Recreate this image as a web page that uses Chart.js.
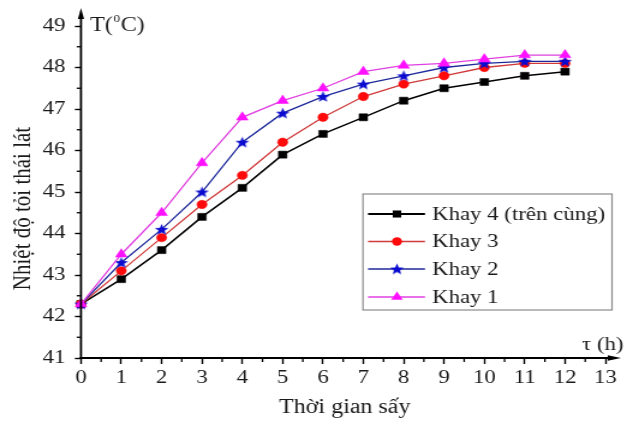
<!DOCTYPE html>
<html>
<head>
<meta charset="utf-8">
<script src="https://cdn.jsdelivr.net/npm/chart.js@4/dist/chart.umd.min.js"></script>
<style>
  html, body { margin: 0; padding: 0; background: #ffffff; overflow: hidden; }
  #c { display: block; width: 627px; height: 421px; }
</style>
</head>
<body>
<canvas id="c" width="522" height="421" style="width:627px;height:421px"></canvas>
<script>
// ---- data ----
const hours = [0, 1, 2, 3, 4, 5, 6, 7, 8, 9, 10, 11, 12];
const khay4 = [42.3, 42.9, 43.6, 44.4, 45.1, 45.9, 46.4, 46.8, 47.2, 47.5, 47.65, 47.8, 47.9];
const khay3 = [42.3, 43.1, 43.9, 44.7, 45.4, 46.2, 46.8, 47.3, 47.6, 47.8, 48.0, 48.1, 48.1];
const khay2 = [42.3, 43.3, 44.1, 45.0, 46.2, 46.9, 47.3, 47.6, 47.8, 48.0, 48.1, 48.15, 48.15];
const khay1 = [42.3, 43.5, 44.5, 45.7, 46.8, 47.2, 47.5, 47.9, 48.05, 48.1, 48.2, 48.3, 48.3];
const seriesNames = ['Khay 4 (trên cùng)', 'Khay 3', 'Khay 2', 'Khay 1'];
const yTicks = [41, 42, 43, 44, 45, 46, 47, 48, 49];
const xTicks = [0, 1, 2, 3, 4, 5, 6, 7, 8, 9, 10, 11, 12, 13];
const yTitle = 'Nhiệt độ tỏi thái lát';
const xTitle = 'Thời gian sấy';

const SERIF = '"Liberation Serif", "Times New Roman", serif';

// star marker image
function makeStar(color) {
  const c = document.createElement('canvas');
  c.width = 13; c.height = 13;
  const g = c.getContext('2d');
  g.fillStyle = color;
  g.beginPath();
  const cx = 6.5, cy = 7, R = 6, r = 2.6;
  for (let i = 0; i < 10; i++) {
    const a = -Math.PI / 2 + i * Math.PI / 5;
    const rr = i % 2 === 0 ? R : r;
    const px = cx + rr * Math.cos(a), py = cy + rr * Math.sin(a);
    if (i === 0) g.moveTo(px, py); else g.lineTo(px, py);
  }
  g.closePath();
  g.fill();
  return c;
}
const starImg = makeStar('#0a0ad0');

const toPts = arr => hours.map((h, i) => ({ x: h, y: arr[i] }));

const styles = [
  { line: '#000000', fill: '#000000', style: 'rect', radius: 5, width: 1.5, order: 3 },
  { line: '#d03a3a', fill: '#ff0a0a', style: 'circle', radius: 4.2, width: 1.3, order: 2 },
  { line: '#1f2a9a', fill: '#0a0ad0', style: starImg, radius: 5, width: 1.3, order: 1 },
  { line: '#e040e0', fill: '#ff10ff', style: 'triangle', radius: 5.6, width: 1.3, order: 0 }
];
const seriesData = [khay4, khay3, khay2, khay1];

const datasets = seriesData.map((arr, i) => ({
  label: seriesNames[i],
  data: toPts(arr),
  borderColor: styles[i].line,
  backgroundColor: styles[i].fill,
  borderWidth: styles[i].width,
  pointStyle: styles[i].style,
  pointRadius: styles[i].radius,
  pointBackgroundColor: styles[i].fill,
  pointBorderColor: styles[i].fill,
  pointBorderWidth: 0.5,
  tension: 0,
  clip: false,
  order: styles[i].order
}));

function drawMarker(ctx, st, x, y) {
  ctx.save();
  ctx.fillStyle = st.fill;
  if (st.style === 'rect') {
    const s = st.radius * Math.SQRT1_2;
    ctx.fillRect(x - s, y - s, 2 * s, 2 * s);
  } else if (st.style === 'circle') {
    ctx.beginPath(); ctx.arc(x, y, st.radius, 0, Math.PI * 2); ctx.fill();
  } else if (st.style === 'triangle') {
    const r = st.radius;
    ctx.beginPath();
    ctx.moveTo(x, y - r);
    ctx.lineTo(x + r * Math.sin(Math.PI / 3), y + r * 0.5);
    ctx.lineTo(x - r * Math.sin(Math.PI / 3), y + r * 0.5);
    ctx.closePath(); ctx.fill();
  } else {
    ctx.drawImage(st.style, x - st.style.width / 2, y - st.style.height / 2);
  }
  ctx.restore();
}

const decor = {
  id: 'decor',
  afterDraw(chart) {
    const ctx = chart.ctx;
    const xs = chart.scales.x, ys = chart.scales.y;
    const L = chart.chartArea.left, B = chart.chartArea.bottom;
    ctx.save();
    ctx.strokeStyle = '#000'; ctx.fillStyle = '#000';
    // axes
    ctx.lineWidth = 1.8;
    ctx.beginPath(); ctx.moveTo(L, B + 0.5); ctx.lineTo(L, 14); ctx.stroke();
    ctx.lineWidth = 2;
    ctx.beginPath(); ctx.moveTo(L - 1, B); ctx.lineTo(510, B); ctx.stroke();
    // arrows
    ctx.beginPath(); ctx.moveTo(L, 8); ctx.lineTo(L + 2.6, 19); ctx.lineTo(L - 2.6, 19); ctx.closePath(); ctx.fill();
    ctx.beginPath(); ctx.moveTo(517, B); ctx.lineTo(506, B - 2.8); ctx.lineTo(506, B + 2.8); ctx.closePath(); ctx.fill();
    // minor ticks
    ctx.lineWidth = 1.3;
    for (let i = 0; i < yTicks.length - 1; i++) {
      const py = ys.getPixelForValue(yTicks[i] + 0.5);
      ctx.beginPath(); ctx.moveTo(L - 3.5, py); ctx.lineTo(L, py); ctx.stroke();
    }
    for (let i = 0; i < xTicks.length - 1; i++) {
      const px = xs.getPixelForValue(xTicks[i] + 0.5);
      ctx.beginPath(); ctx.moveTo(px, B); ctx.lineTo(px, B + 4); ctx.stroke();
    }
    // titles
    ctx.fillStyle = '#1a1a1a';
    ctx.font = '21px ' + SERIF;
    ctx.textAlign = 'center'; ctx.textBaseline = 'middle';
    ctx.save();
    ctx.translate(19, 208.5); ctx.rotate(-Math.PI / 2);
    ctx.fillText(yTitle, 0, 0);
    ctx.restore();
    ctx.font = '20px ' + SERIF;
    ctx.fillText(xTitle, 287, 408);
    // T(0C)
    ctx.textAlign = 'left'; ctx.textBaseline = 'alphabetic';
    ctx.font = '20px ' + SERIF;
    let tx = 75;
    ctx.fillText('T(', tx, 31); tx += ctx.measureText('T(').width;
    ctx.font = '11px ' + SERIF;
    ctx.fillText('0', tx + 0.5, 22); tx += ctx.measureText('0').width + 1;
    ctx.font = '20px ' + SERIF;
    ctx.fillText('C)', tx, 31);
    // tau (h)
    ctx.font = '19px ' + SERIF;
    ctx.fillText('τ (h)', 484.5, 350);
    // legend
    const bx0 = 302.2, bx1 = 509.5, by0 = 194, by1 = 310;
    ctx.strokeStyle = '#8a8a8a'; ctx.lineWidth = 1.2;
    ctx.strokeRect(bx0, by0, bx1 - bx0, by1 - by0);
    const rows = [214, 241.5, 269, 297];
    ctx.font = '19px ' + SERIF; ctx.textBaseline = 'middle';
    for (let i = 0; i < 4; i++) {
      const st = styles[i], ry = rows[i];
      ctx.strokeStyle = st.line; ctx.lineWidth = st.width + 0.3;
      ctx.beginPath(); ctx.moveTo(306.4, ry); ctx.lineTo(353.8, ry); ctx.stroke();
      drawMarker(ctx, st, 330.5, ry);
      ctx.fillStyle = '#1a1a1a';
      ctx.fillText(seriesNames[i], 359.7, ry + 1);
    }
    ctx.restore();
  }
};

const tickFont = { family: SERIF, size: 19 };

new Chart(document.getElementById('c'), {
  type: 'line',
  data: { datasets },
  plugins: [decor],
  options: {
    responsive: false,
    animation: false,
    devicePixelRatio: 1,
    layout: { padding: { left: 0, right: 18, top: 26, bottom: 0 } },
    plugins: { legend: { display: false }, tooltip: { enabled: false }, title: { display: false } },
    scales: {
      x: {
        type: 'linear', min: 0, max: 13,
        afterBuildTicks: s => { s.ticks = xTicks.map(v => ({ value: v })); },
        afterFit: s => { s.height = 63; },
        ticks: { font: tickFont, color: '#1a1a1a', padding: 3, autoSkip: false, maxRotation: 0 },
        grid: { display: true, drawOnChartArea: false, drawTicks: true, tickLength: 6, tickWidth: 1.4, tickColor: '#000' },
        border: { display: false }
      },
      y: {
        type: 'linear', min: 41, max: 49,
        afterBuildTicks: s => { s.ticks = yTicks.map(v => ({ value: v })); },
        afterFit: s => { s.width = 67.4; },
        ticks: { font: tickFont, color: '#1a1a1a', padding: 8, autoSkip: false },
        grid: { display: true, drawOnChartArea: false, drawTicks: true, tickLength: 5, tickWidth: 1.4, tickColor: '#000' },
        border: { display: false }
      }
    }
  }
});
</script>
</body>
</html>
